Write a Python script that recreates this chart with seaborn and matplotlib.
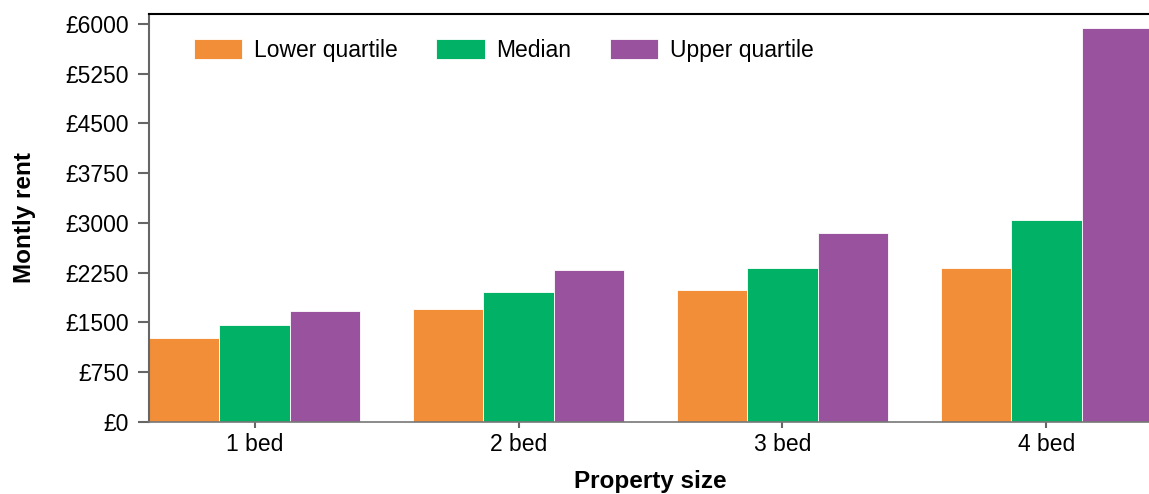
import pandas as pd
import matplotlib.pyplot as plt
import seaborn as sns

# values
sizes = ['1 bed', '2 bed', '3 bed', '4 bed']
lower_quartile = [1265, 1700, 1980, 2320]
median = [1460, 1950, 2320, 3040]
upper_quartile = [1665, 2285, 2840, 5940]
series_names = ['Lower quartile', 'Median', 'Upper quartile']
colors = ['#F28E38', '#00B166', '#99529E']
y_ticks = [0, 750, 1500, 2250, 3000, 3750, 4500, 5250, 6000]

df = pd.DataFrame({
    'size': sizes * 3,
    'series': [s for s in series_names for _ in sizes],
    'rent': lower_quartile + median + upper_quartile,
})

sns.set_style('white')
plt.rcParams['font.family'] = ['Liberation Sans', 'DejaVu Sans']
plt.rcParams['text.color'] = 'black'
plt.rcParams['axes.labelcolor'] = 'black'
plt.rcParams['xtick.color'] = 'black'
plt.rcParams['ytick.color'] = 'black'

fig = plt.figure(figsize=(11.49, 4.94), dpi=100)
ax = fig.add_axes([149 / 1149, 1 - 421.7 / 494, 1003 / 1149, 407.4 / 494])

sns.barplot(data=df, x='size', y='rent', hue='series', palette=colors,
            width=0.8, saturation=1, edgecolor='white', linewidth=0.6, ax=ax)

ax.set_xlim(-0.4, 3.4)
ax.set_ylim(0, 6147)
ax.set_yticks(y_ticks)
ax.set_yticklabels([f'£{v}' for v in y_ticks])

ax.tick_params(axis='y', length=8, width=1.5, color='#666666',
               labelsize=16.5, pad=6.5, left=True)
ax.tick_params(axis='x', length=4, width=1.5, color='#666666',
               labelsize=16.5, pad=4, bottom=True)
ax.spines['left'].set_color('#666666')
ax.spines['left'].set_linewidth(1.5)
ax.spines['bottom'].set_color('#777777')
ax.spines['bottom'].set_linewidth(1.2)
ax.spines['top'].set_color('black')
ax.spines['top'].set_linewidth(1.5)
ax.spines['right'].set_visible(False)

ax.set_xlabel('Property size', fontsize=17.5, fontweight='bold', labelpad=10)
ax.set_ylabel('Montly rent', fontsize=17.5, fontweight='bold', labelpad=21)

ax.legend(loc='upper left', bbox_to_anchor=(0.045, 0.94), ncol=3, frameon=False,
          fontsize=16.5, handlelength=2.1, handleheight=1.0, handletextpad=0.5,
          columnspacing=1.7, borderpad=0, borderaxespad=0)

fig.savefig('out.png', dpi=100)
